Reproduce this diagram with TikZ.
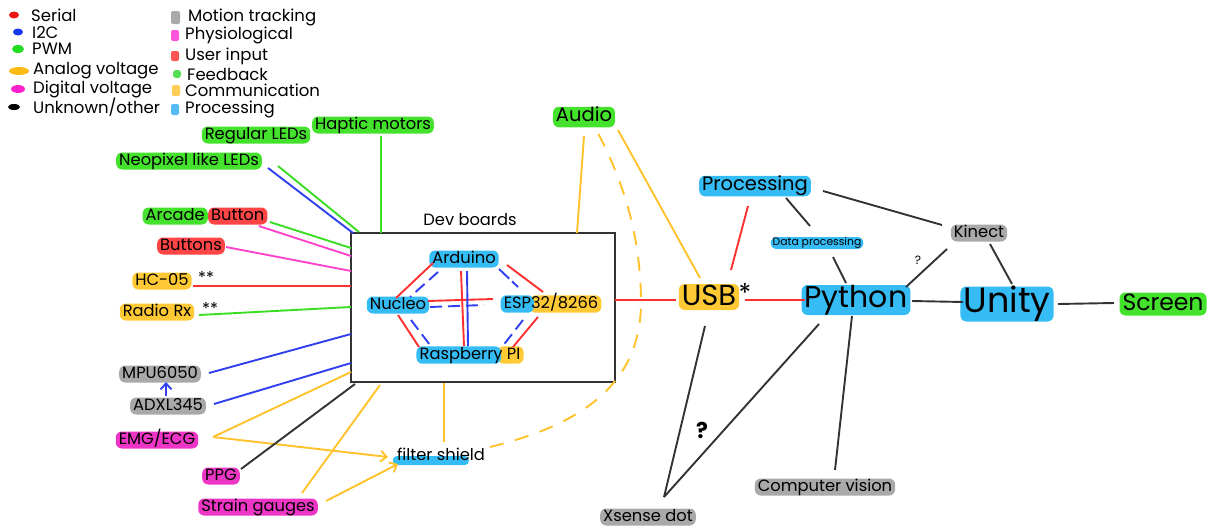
\documentclass[tikz,border=0pt]{standalone}
\usepackage{fontspec}
\setmainfont{Poppins}
\usetikzlibrary{arrows.meta,calc,backgrounds}
\definecolor{hgreen}{HTML}{44E22C}
\definecolor{hblue}{HTML}{36BCF4}
\definecolor{horange}{HTML}{FFC935}
\definecolor{hmag}{HTML}{EE36C6}
\definecolor{hgray}{HTML}{A9A9A9}
\definecolor{hred}{HTML}{FF4545}
\definecolor{lred}{HTML}{FF3030}
\definecolor{lblue}{HTML}{3040EE}
\definecolor{lgreen}{HTML}{3ADD22}
\definecolor{lorange}{HTML}{FFC22A}
\definecolor{lmag}{HTML}{FF44CC}
\definecolor{lblack}{HTML}{333333}
\definecolor{gred}{HTML}{EE1515}
\definecolor{gblue}{HTML}{1535EE}
\definecolor{ggreen}{HTML}{22DD22}
\definecolor{gorange}{HTML}{FFBB15}
\definecolor{gmag}{HTML}{FF22CC}
\definecolor{ggray}{HTML}{AAAAAA}
\definecolor{gpink}{HTML}{FF55DD}
\definecolor{gred2}{HTML}{FF5555}
\definecolor{ggreen2}{HTML}{55DD55}
\definecolor{gorange2}{HTML}{FFCC55}
\definecolor{gblue2}{HTML}{55BBF5}
\newcommand{\fsz}[1]{\fontsize{#1}{#1}\selectfont}
\tikzset{
  hl/.style={fill=#1, rounded corners=6pt, inner xsep=3pt, inner ysep=1pt},
  sA/.style={font=\fsz{16.3}, text height=11.5pt, text depth=3.5pt},
  sB/.style={font=\fsz{19.5}, text height=14pt, text depth=4.5pt},
  sU/.style={font=\fsz{29}, text height=20pt, text depth=4pt},
  sP/.style={font=\fsz{30}, text height=21pt, text depth=7pt},
  sY/.style={font=\fsz{35}, text height=25pt, text depth=8pt},
  sS/.style={font=\fsz{23.5}, text height=17pt, text depth=4pt},
  sD/.style={font=\fsz{10.8}, text height=7.5pt, text depth=2.5pt},
  leg/.style={font=\fsz{16.5}, anchor=west, inner sep=0pt},
  ln/.style={line width=1.9pt, draw=#1},
  dsh/.style={dash pattern=on 12pt off 6pt},
  arr/.style={-{Straight Barb[length=6pt,width=11pt]}}
}
\begin{document}
\begin{tikzpicture}[x=1pt,y=-1pt]
\useasboundingbox (0,0) rectangle (1216,530);
% ---------------- legend ----------------
\fill[gred] (14,15) ellipse (5 and 3.5);
\fill[gblue] (18,32) ellipse (5 and 3.5);
\fill[ggreen] (18,49) ellipse (6 and 4);
\fill[gorange] (19,71) ellipse (10 and 4);
\fill[gmag] (18,89) ellipse (7 and 4);
\fill[black] (14,107) ellipse (6 and 3);
\node[leg] (l1) at (31,15) {Serial};
\node[leg] (l2) at (32,32) {I2C};
\node[leg] (l3) at (32,49) {PWM};
\node[leg] (l4) at (33,71) {Analog voltage};
\node[leg] (l5) at (33,89) {Digital voltage};
\node[leg] (l6) at (33,107) {Unknown/other};
\fill[ggray, rounded corners=2pt] (171,11) rectangle (180,24);
\fill[gpink, rounded corners=2pt] (171,30) rectangle (179,41);
\fill[gred2, rounded corners=2pt] (171,51) rectangle (179,61);
\fill[ggreen2, rounded corners=3pt] (173,70) rectangle (181,78);
\fill[gorange2, rounded corners=2pt] (172,85) rectangle (180,96);
\fill[gblue2, rounded corners=2pt] (171,104) rectangle (179,115);
\node[leg] (r1) at (188,17) {Motion tracking};
\node[leg] (r2) at (185,35) {Physiological};
\node[leg] (r3) at (185,56) {User input};
\node[leg] (r4) at (187,74) {Feedback};
\node[leg] (r5) at (185,90) {Communication};
\node[leg] (r6) at (185,109) {Processing};
% ---------------- left inputs/outputs ----------------
\node[hl=hgreen, sA] (haptic) at (373,125) {Haptic motors};
\node[hl=hgreen, sA] (regled) at (256,135) {Regular LEDs};
\node[hl=hgreen, sA] (neo) at (189,161) {Neopixel like LEDs};
\node[hl=hgreen, sA, anchor=east] (arcade) at (208,216) {Arcade};
\node[hl=hred, sA, anchor=west] (button) at (208,216) {Button};
\node[hl=hred, sA] (buttons) at (191,246) {Buttons};
\node[hl=horange, sA] (hc05) at (162,281) {HC-05};
\node[sA, inner sep=0pt] (hcstar) at (206,279) {**};
\node[hl=horange, sA] (radio) at (157,312) {Radio Rx};
\node[sA, inner sep=0pt] (radstar) at (210,310) {**};
\node[hl=hgray, sA] (mpu) at (160,374) {MPU6050};
\node[hl=hgray, sA] (adxl) at (168,406) {ADXL345};
\node[hl=hmag, sA] (emg) at (157,440) {EMG/ECG};
\node[hl=hmag, sA] (ppg) at (221,476) {PPG};
\node[hl=hmag, sA] (strain) at (258,507) {Strain gauges};
\node[sA, inner xsep=2pt] (fs) at (441,456) {filter shield};
% ---------------- dev boards ----------------
\node[draw=lblack, line width=1.9pt, minimum width=264pt, minimum height=149pt] (dev) at (483,307.5) {};
\node[sA, inner sep=0pt] (devlbl) at (470,221) {Dev boards};
\node[hl=hblue, sA] (ard) at (464,259) {Arduino};
\node[hl=hblue, sA] (nuc) at (398,305) {Nucleo};
\node[sA, inner xsep=3pt, inner ysep=1pt] (esp) at (551,304) {ESP32/8266};
\node[sA, inner xsep=3pt, inner ysep=1pt] (ras) at (470,355) {Raspberry PI};
\begin{scope}[on background layer]
\fill[hblue, rounded corners=4pt] ($(fs.south west)+(-2,-2)$) rectangle ($(fs.south west)+(74,-11)$);
\fill[horange, rounded corners=6pt] ($(esp.south west)!0.29!(esp.south east)$) rectangle (esp.north east);
\fill[hblue, rounded corners=6pt] (esp.south west) rectangle ($(esp.north west)!0.33!(esp.north east)$);
\fill[horange, rounded corners=6pt] ($(ras.south west)!0.76!(ras.south east)$) rectangle (ras.north east);
\fill[hblue, rounded corners=6pt] (ras.south west) rectangle ($(ras.north west)!0.79!(ras.north east)$);
\end{scope}
% internal links
\draw[ln=lred] ([shift={(-31,4)}]ard.center) -- ([shift={(-2,-7)}]nuc.center);
\draw[ln=lblue, dsh] ([shift={(-26,13)}]ard.center) -- ([shift={(12,-8)}]nuc.center);
\draw[ln=lred] ([shift={(43,6)}]ard.center) -- ([shift={(-8,-12)}]esp.center);
\draw[ln=lblue, dash pattern=on 14pt off 4pt] ([shift={(35,10)}]ard.center) -- ([shift={(-33,-17)}]esp.center);
\draw[ln=lred] ([shift={(30,-4)}]nuc.center) -- ([shift={(-58,-5)}]esp.center);
\draw[ln=lblue, dsh] ([shift={(32,2)}]nuc.center) -- ([shift={(-67,1)}]esp.center);
\draw[ln=lred] ([shift={(-3,12)}]ard.center) -- ([shift={(-6,-9)}]ras.center);
\draw[ln=lblue] ([shift={(3,12)}]ard.center) -- ([shift={(-2,-9)}]ras.center);
\draw[ln=lred] ([shift={(0,10)}]nuc.center) -- ([shift={(-51,-8)}]ras.center);
\draw[ln=lblue, dsh] ([shift={(13,15)}]nuc.center) -- ([shift={(-40,-10)}]ras.center);
\draw[ln=lred] ([shift={(-13,13)}]esp.center) -- ([shift={(43,-8)}]ras.center);
\draw[ln=lblue, dsh] ([shift={(-28,16)}]esp.center) -- ([shift={(32,-8)}]ras.center);
% links to dev box
\draw[ln=lblue] ([shift={(79,7)}]neo.center) -- ([shift={(-130,-74.5)}]dev.center);
\draw[ln=lgreen] ([shift={(89,5)}]neo.center) -- ([shift={(-124,-75.5)}]dev.center);
\draw[ln=lgreen] ([shift={(8,11)}]haptic.center) -- ([shift={(-102,-74.5)}]dev.center);
\draw[ln=lgreen] ([shift={(32,6)}]button.center) -- ([shift={(-132,-59.5)}]dev.center);
\draw[ln=lmag] ([shift={(21,10)}]button.center) -- ([shift={(-132,-51.5)}]dev.center);
\draw[ln=lmag] ([shift={(35,1)}]buttons.center) -- ([shift={(-132,-36.5)}]dev.center);
\draw[ln=lred] ([shift={(31,5)}]hc05.center) -- ([shift={(-132,-21.5)}]dev.center);
\draw[ln=lgreen] ([shift={(42,3)}]radio.center) -- ([shift={(-132,-0.5)}]dev.center);
\draw[ln=lblue] ([shift={(49,-1)}]mpu.center) -- ([shift={(-132,26.5)}]dev.center);
\draw[ln=lblue] ([shift={(46,-2)}]adxl.center) -- ([shift={(-132,55.5)}]dev.center);
\draw[ln=lblue, arr] ([shift={(-2,-10)}]adxl.center) -- ([shift={(6,8)}]mpu.center);
\draw[ln=lorange] ([shift={(56,-3)}]emg.center) -- ([shift={(-132,64.5)}]dev.center);
\draw[ln=lorange, arr] ([shift={(56,-3)}]emg.center) -- ([shift={(-53,1)}]fs.center);
\draw[ln=lblack] ([shift={(20,-7)}]ppg.center) -- ([shift={(-128,76.5)}]dev.center);
\draw[ln=lorange] ([shift={(44,-14)}]strain.center) -- ([shift={(-103,77.5)}]dev.center);
\draw[ln=lorange, arr] ([shift={(68,-6)}]strain.center) -- ([shift={(-43,8)}]fs.center);
\draw[ln=lorange] ([shift={(3,-14)}]fs.center) -- ([shift={(-39,75)}]dev.center);
% ---------------- right side ----------------
\node[hl=hgreen, sB] (audio) at (584,117) {Audio};
\node[hl=horange, sU] (usb) at (709,297) {USB};
\node[font=\fsz{26}, inner sep=0pt] (usbstar) at (745,293) {*};
\node[hl=hblue, sB] (proc) at (755,186) {Processing};
\node[hl=hblue, sD, inner xsep=2pt] (dp) at (817,243) {Data processing};
\node[hl=hgray, sA] (kinect) at (979,233) {Kinect};
\node[hl=hblue, sP] (python) at (856,300) {Python};
\node[hl=hblue, sY] (unity) at (1007,304) {Unity};
\node[hl=hgreen, sS] (screen) at (1163,304) {Screen};
\node[hl=hgray, sA] (cv) at (825,487) {Computer vision};
\node[hl=hgray, sA] (xs) at (648,517) {Xsense dot};
\node[font=\bfseries\fsz{22}, inner sep=0pt] (q1) at (702,430) {?};
\node[font=\fsz{12}, inner sep=0pt] (q2) at (918,260) {?};
\draw[ln=lorange] ([shift={(0,19)}]audio.center) -- ([shift={(94,-74.5)}]dev.center);
\draw[ln=lorange] ([shift={(34,13)}]audio.center) -- ([shift={(-9,-19)}]usb.center);
\draw[ln=lorange, dash pattern=on 14pt off 12pt] ([shift={(49,-9)}]fs.center) .. controls (580,425) and (642,385) .. (641,300) .. controls (640,230) and (622,180) .. ([shift={(14,16)}]audio.center);
\draw[ln=lred] ([shift={(132,-7.5)}]dev.center) -- ([shift={(-33,3)}]usb.center);
\draw[ln=lred] ([shift={(22,-27)}]usb.center) -- ([shift={(-7,20)}]proc.center);
\draw[ln=lred] ([shift={(36,3)}]usb.center) -- ([shift={(-51,0)}]python.center);
\draw[ln=lblack] ([shift={(-4,29)}]usb.center) -- ([shift={(16,-20)}]xs.center);
\draw[ln=lblack] ([shift={(-37,24)}]python.center) -- ([shift={(16,-20)}]xs.center);
\draw[ln=lblack] ([shift={(31,12)}]proc.center) -- ([shift={(-7,-17)}]dp.center);
\draw[ln=lblack] ([shift={(68,5)}]proc.center) -- ([shift={(-37,-8)}]kinect.center);
\draw[ln=lblack] ([shift={(16,14)}]dp.center) -- ([shift={(-10,-17)}]python.center);
\draw[ln=lblack] ([shift={(-32,16)}]kinect.center) -- ([shift={(50,-13)}]python.center);
\draw[ln=lblack] ([shift={(11,11)}]kinect.center) -- ([shift={(5,-20)}]unity.center);
\draw[ln=lblack] ([shift={(56,1)}]python.center) -- ([shift={(-44,-2)}]unity.center);
\draw[ln=lblack] ([shift={(-4,16)}]python.center) -- ([shift={(10,-17)}]cv.center);
\draw[ln=lblack] ([shift={(51,0)}]unity.center) -- ([shift={(-49,-1)}]screen.center);
\end{tikzpicture}
\end{document}
